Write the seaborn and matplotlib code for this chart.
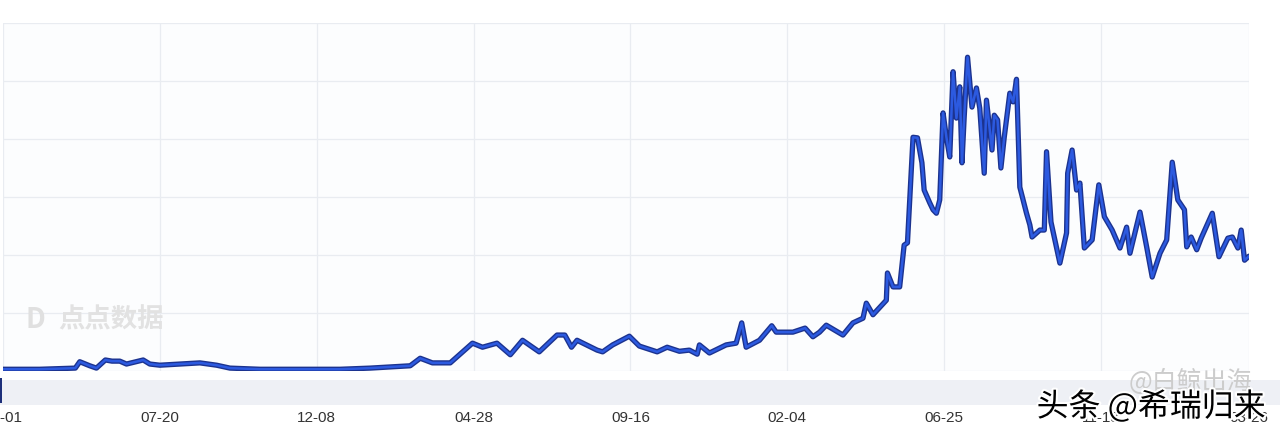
import pandas as pd
import numpy as np
import matplotlib.pyplot as plt
import matplotlib.patheffects as pe
from matplotlib.patches import Rectangle
import seaborn as sns

sns.set_style("white")
plt.rcParams['font.family'] = ['Noto Sans CJK SC', 'DejaVu Sans']

start_date = "2020-03-01"
end_date = "2023-03-26"

# days since start
day_offsets = [0, 33, 65, 69, 78, 84, 92, 98, 105, 111, 126, 132, 141, 159, 177, 192, 204,
               231, 267, 303, 330, 348, 366, 375, 386, 402, 422, 431, 444, 456, 467, 482,
               498, 505, 511, 516, 534, 539, 548, 563, 572, 588, 597, 608, 617, 624, 626,
               635, 650, 659, 664, 668, 680, 691, 695, 710, 721, 728, 734, 740, 755, 764,
               773, 776, 782, 794, 795, 800, 806, 810, 813, 818, 822, 826, 828, 833, 836,
               839, 842, 845, 848, 851, 854, 857, 860, 862, 864, 867, 871, 875, 878, 882,
               884, 889, 891, 894, 897, 900, 905, 908, 911, 914, 920, 923, 925, 932, 936,
               938, 942, 950, 956, 957, 961, 965, 968, 972, 979, 985, 990, 997, 1004, 1010,
               1013, 1022, 1028, 1033, 1040, 1046, 1051, 1056, 1062, 1064, 1068, 1073, 1077,
               1083, 1087, 1093, 1101, 1105, 1110, 1113, 1116, 1120]

# relative daily value (one unit = one grid step)
values = [0.03, 0.03, 0.05, 0.16, 0.09, 0.05, 0.19, 0.17, 0.17, 0.12, 0.19, 0.12, 0.10,
          0.12, 0.14, 0.10, 0.05, 0.03, 0.03, 0.03, 0.05, 0.07, 0.09, 0.22, 0.14, 0.14,
          0.48, 0.41, 0.48, 0.28, 0.53, 0.33, 0.62, 0.62, 0.41, 0.53, 0.36, 0.33, 0.45,
          0.60, 0.43, 0.33, 0.41, 0.34, 0.36, 0.29, 0.45, 0.31, 0.45, 0.48, 0.83, 0.41,
          0.53, 0.78, 0.67, 0.67, 0.74, 0.59, 0.67, 0.79, 0.62, 0.83, 0.91, 1.17, 0.97,
          1.22, 1.69, 1.45, 1.45, 2.17, 2.21, 4.03, 4.02, 3.59, 3.12, 2.90, 2.78, 2.72,
          2.95, 4.45, 4.03, 3.69, 5.16, 4.36, 4.90, 3.59, 4.38, 5.41, 4.55, 4.88, 4.53,
          3.41, 4.67, 3.81, 4.41, 4.33, 3.50, 4.03, 4.79, 4.64, 5.03, 3.17, 2.72, 2.52,
          2.31, 2.43, 2.43, 3.78, 2.57, 1.86, 2.38, 3.41, 3.81, 3.12, 3.24, 2.12, 2.26,
          3.21, 2.66, 2.43, 2.12, 2.48, 2.03, 2.74, 2.14, 1.62, 2.03, 2.26, 3.60, 2.95,
          2.78, 2.14, 2.31, 2.09, 2.29, 2.55, 2.72, 1.97, 2.29, 2.31, 2.12, 2.43, 1.91,
          1.98]

tick_dates = ["2020-03-01", "2020-07-20", "2020-12-08", "2021-04-28", "2021-09-16",
              "2022-02-04", "2022-06-25", "2022-11-13", "2023-03-26"]

df = pd.DataFrame({
    "date": pd.Timestamp(start_date) + pd.to_timedelta(day_offsets, unit="D"),
    "value": values,
})

fig = plt.figure(figsize=(12.8, 4.38), dpi=100)
fig.patch.set_facecolor("white")
# light band under the plot
fig.patches.append(Rectangle((0, 1 - 405 / 438), 1, 25 / 438, transform=fig.transFigure,
                             facecolor="#eef0f5", edgecolor="none", zorder=0))
fig.patches.append(Rectangle((0, 1 - 403 / 438), 2 / 1280, 25 / 438, transform=fig.transFigure,
                             facecolor="#1d2f7a", edgecolor="none", zorder=1))

ax = fig.add_axes([3 / 1280, 1 - 371 / 438, 1246 / 1280, 348 / 438])
ax.set_facecolor("#fcfdfe")

sns.lineplot(data=df, x="date", y="value", ax=ax, color="#1c338f", linewidth=3.8)
sns.lineplot(data=df, x="date", y="value", ax=ax, color="#2c5ae0", linewidth=1.8)

ax.set_xlim(pd.Timestamp(start_date), pd.Timestamp(end_date))
ax.set_ylim(0, 6)
ax.set_yticks(range(0, 7))
ax.set_yticklabels([])
ticks = pd.to_datetime(tick_dates)
ax.set_xticks(ticks)
ax.set_xticklabels([t.strftime("%m-%d") for t in ticks], fontsize=11, color="#333333",
                   family=["Liberation Sans", "DejaVu Sans"])
ax.tick_params(axis="x", length=0, pad=29)
ax.tick_params(axis="y", length=0)
ax.grid(True, color="#e9ecf1", linewidth=0.9)
for s in ax.spines.values():
    s.set_visible(False)
ax.set_xlabel("")
ax.set_ylabel("")

# watermarks
fig.text(26 / 1280, 1 - 320 / 438, "D", fontsize=20, color="#e0e0e0", fontweight="bold",
         va="center", ha="left")
fig.text(58 / 1280, 1 - 320 / 438, "点点数据", fontsize=19, color="#e2e2e2", fontweight="bold",
         va="center", ha="left")
fig.text(1252 / 1280, 1 - 382 / 438, "@白鲸出海", fontsize=18, color="#cccccc",
         va="center", ha="right")
fig.text(1266 / 1280, 1 - 407 / 438, "头条 @希瑞归来", fontsize=23, color="black",
         va="center", ha="right",
         path_effects=[pe.withStroke(linewidth=3, foreground="white")])

fig.savefig("out.png", dpi=100)
